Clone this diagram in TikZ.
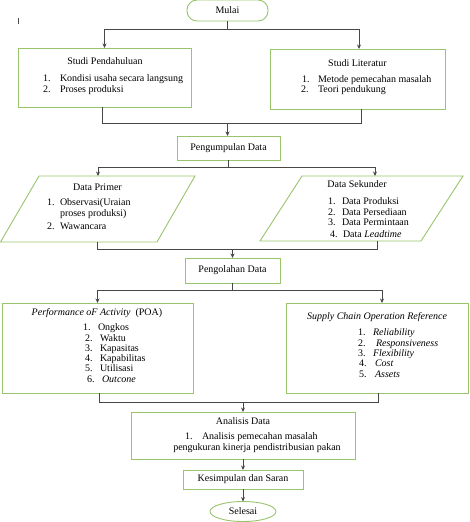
\documentclass[tikz,border=0pt]{standalone}
\usepackage{fontspec}
\setmainfont{Liberation Serif}
\usetikzlibrary{arrows.meta,shapes.geometric,calc}
\definecolor{boxgreen}{RGB}{152,196,108}
\begin{document}
\begin{tikzpicture}[x=1pt,y=-1pt,
 box/.style={draw=boxgreen,line width=0.9pt,inner sep=0pt,outer sep=0pt,font=\fontsize{10}{11}\selectfont},
 txt/.style={inner sep=0pt,outer sep=0pt,font=\fontsize{10}{11}\selectfont},
 conn/.style={draw=black!72,line width=0.7pt},
 arr/.style={conn,-{Stealth[length=4.5pt,width=4pt]}}]
\useasboundingbox (0,0) rectangle (470,522);

% stray mark
\draw[black!70,line width=0.5pt] (18,18) -- (18,24);

% Mulai
\node[box,rounded corners=10pt,minimum width=81pt,minimum height=21pt] (mulai) at (227.5,10.5) {Mulai};

% Studi Pendahuluan
\node[box,minimum width=173pt,minimum height=59pt] (sp) at (104.5,77.5) {};
\node[txt,anchor=base] (spt) at (105,64) {Studi Pendahuluan};
\node[txt,anchor=base west] (sp1n) at (43,81) {1.};
\node[txt,anchor=base west] (sp1) at (60,81) {Kondisi usaha secara langsung};
\node[txt,anchor=base west] (sp2n) at (43,92) {2.};
\node[txt,anchor=base west] (sp2) at (60,92) {Proses produksi};

% Studi Literatur
\node[box,minimum width=175pt,minimum height=60pt] (sl) at (357.5,79) {};
\node[txt,anchor=base] (slt) at (357.5,66) {Studi Literatur};
\node[txt,anchor=base west] (sl1n) at (302,82) {1.};
\node[txt,anchor=base west] (sl1) at (318,82) {Metode pemecahan masalah};
\node[txt,anchor=base west] (sl2n) at (301,92) {2.};
\node[txt,anchor=base west] (sl2) at (318,92) {Teori pendukung};

% Pengumpulan Data
\node[box,minimum width=103pt,minimum height=24pt] (pd) at (228.5,148) {Pengumpulan Data};

% Data Primer (parallelogram)
\draw[boxgreen,line width=0.9pt] (39,176) -- (195,176) -- (157,242) -- (0.5,242) -- cycle;
\coordinate (dpin) at (98,176);
\coordinate (dpout) at (97,242);
\node[txt,anchor=base] (dpt) at (97.5,190) {Data Primer};
\node[txt,anchor=base west] (dp1n) at (47,205) {1.};
\node[txt,anchor=base west] (dp1) at (60,205) {Observasi(Uraian};
\node[txt,anchor=base west] (dp1b) at (60,216) {proses produksi)};
\node[txt,anchor=base west] (dp2n) at (47,229) {2.};
\node[txt,anchor=base west] (dp2) at (60,229) {Wawancara};

% Data Sekunder (parallelogram)
\draw[boxgreen,line width=0.9pt] (302,176) -- (463,176) -- (421,241) -- (260,241) -- cycle;
\coordinate (dsin) at (375,176);
\coordinate (dsout) at (377,241);
\node[txt,anchor=base] (dst) at (357,187) {Data Sekunder};
\node[txt,anchor=base west] (ds1n) at (328,204) {1.};
\node[txt,anchor=base west] (ds1) at (342,204) {Data Produksi};
\node[txt,anchor=base west] (ds2n) at (328,215) {2.};
\node[txt,anchor=base west] (ds2) at (342,215) {Data Persediaan};
\node[txt,anchor=base west] (ds3n) at (328,225) {3.};
\node[txt,anchor=base west] (ds3) at (342,225) {Data Permintaan};
\node[txt,anchor=base west] (ds4n) at (330,237) {4.};
\node[txt,anchor=base west] (ds4) at (343,237) {Data \textit{Leadtime}};

% Pengolahan Data
\node[box,minimum width=95pt,minimum height=25pt] (pl) at (232.5,270.5) {Pengolahan Data};

% POA
\node[box,minimum width=191pt,minimum height=90pt] (poa) at (97.5,348) {};
\node[txt,anchor=base] (poat) at (97,315) {\textit{Performance oF Activity}\ \ (POA)};
\node[txt,anchor=base west] (poa1n) at (83,330) {1.};
\node[txt,anchor=base west] (poa1) at (98,330) {Ongkos};
\node[txt,anchor=base west] (poa2n) at (85,341) {2.};
\node[txt,anchor=base west] (poa2) at (100,341) {Waktu};
\node[txt,anchor=base west] (poa3n) at (85,351) {3.};
\node[txt,anchor=base west] (poa3) at (100,351) {Kapasitas};
\node[txt,anchor=base west] (poa4n) at (85,361) {4.};
\node[txt,anchor=base west] (poa4) at (100,361) {Kapabilitas};
\node[txt,anchor=base west] (poa5n) at (85,371) {5.};
\node[txt,anchor=base west] (poa5) at (100,371) {Utilisasi};
\node[txt,anchor=base west] (poa6n) at (87,382) {6.};
\node[txt,anchor=base west] (poa6) at (102,382) {\textit{Outcone}};

% SCOR
\node[box,minimum width=182pt,minimum height=90pt] (scor) at (377,348) {};
\node[txt,anchor=base] (scort) at (377,319) {\textit{Supply Chain Operation Reference}};
\node[txt,anchor=base west] (sc1n) at (358,335.5) {1.};
\node[txt,anchor=base west] (sc1) at (373,335.5) {\textit{Reliability}};
\node[txt,anchor=base west] (sc2n) at (358,346) {2.};
\node[txt,anchor=base west] (sc2) at (376,346) {\textit{Responsiveness}};
\node[txt,anchor=base west] (sc3n) at (358,356) {3.};
\node[txt,anchor=base west] (sc3) at (373,356) {\textit{Flexibility}};
\node[txt,anchor=base west] (sc4n) at (359,366.5) {4.};
\node[txt,anchor=base west] (sc4) at (375,366.5) {\textit{Cost}};
\node[txt,anchor=base west] (sc5n) at (359,377) {5.};
\node[txt,anchor=base west] (sc5) at (375,377) {\textit{Assets}};

% Analisis Data
\node[box,minimum width=224pt,minimum height=47pt] (ad) at (243,435.5) {};
\node[txt,anchor=base] (adt) at (243,424) {Analisis Data};
\node[txt,anchor=base west] (ad1n) at (185,439) {1.};
\node[txt,anchor=base west] (ad1) at (202,439) {Analisis pemecahan masalah};
\node[txt,anchor=base] (ad1b) at (257,450) {pengukuran kinerja pendistribusian pakan};

% Kesimpulan dan Saran
\node[box,minimum width=120pt,minimum height=19pt] (kes) at (243,479.5) {Kesimpulan dan Saran};

% Selesai
\node[box,ellipse,minimum width=66pt,minimum height=20pt] (sel) at (243,511.5) {Selesai};

% connectors
\coordinate (j1) at (227.5,29);
\draw[conn] (mulai.south) -- (j1);
\draw[arr] (j1) -| (sp.north);
\draw[arr] (j1) -| ($(sl.north)+(1.5,0)$);

\coordinate (j2) at (227.5,123);
\draw[conn] ($(sp.south)+(-2,0)$) |- (j2);
\draw[conn] ($(sl.south)+(4,0)$) |- (j2);
\draw[arr] (j2) -- (j2 |- pd.north);

\coordinate (j3) at (228.5,167);
\draw[conn] (pd.south) -- (j3);
\draw[arr] (j3) -| (dpin);
\draw[arr] (j3) -| (dsin);

\coordinate (j4) at (232.5,249);
\draw[conn] (dpout) |- (j4);
\draw[conn] (dsout) |- (j4);
\draw[arr] (j4) -- (pl.north);

\coordinate (j5) at (232.5,290);
\draw[conn] (pl.south) -- (j5);
\draw[arr] (j5) -| (poa.north);
\draw[arr] (j5) -| ($(scor.north)+(5,0)$);

\coordinate (j6) at (243,402);
\draw[conn] ($(poa.south)+(1.5,0)$) |- (j6);
\draw[conn] ($(scor.south)+(1,0)$) |- (j6);
\draw[arr] (j6) -- (ad.north);

\draw[arr] (ad.south) -- (kes.north);
\draw[arr] (kes.south) -- (sel.north);
\end{tikzpicture}
\end{document}
